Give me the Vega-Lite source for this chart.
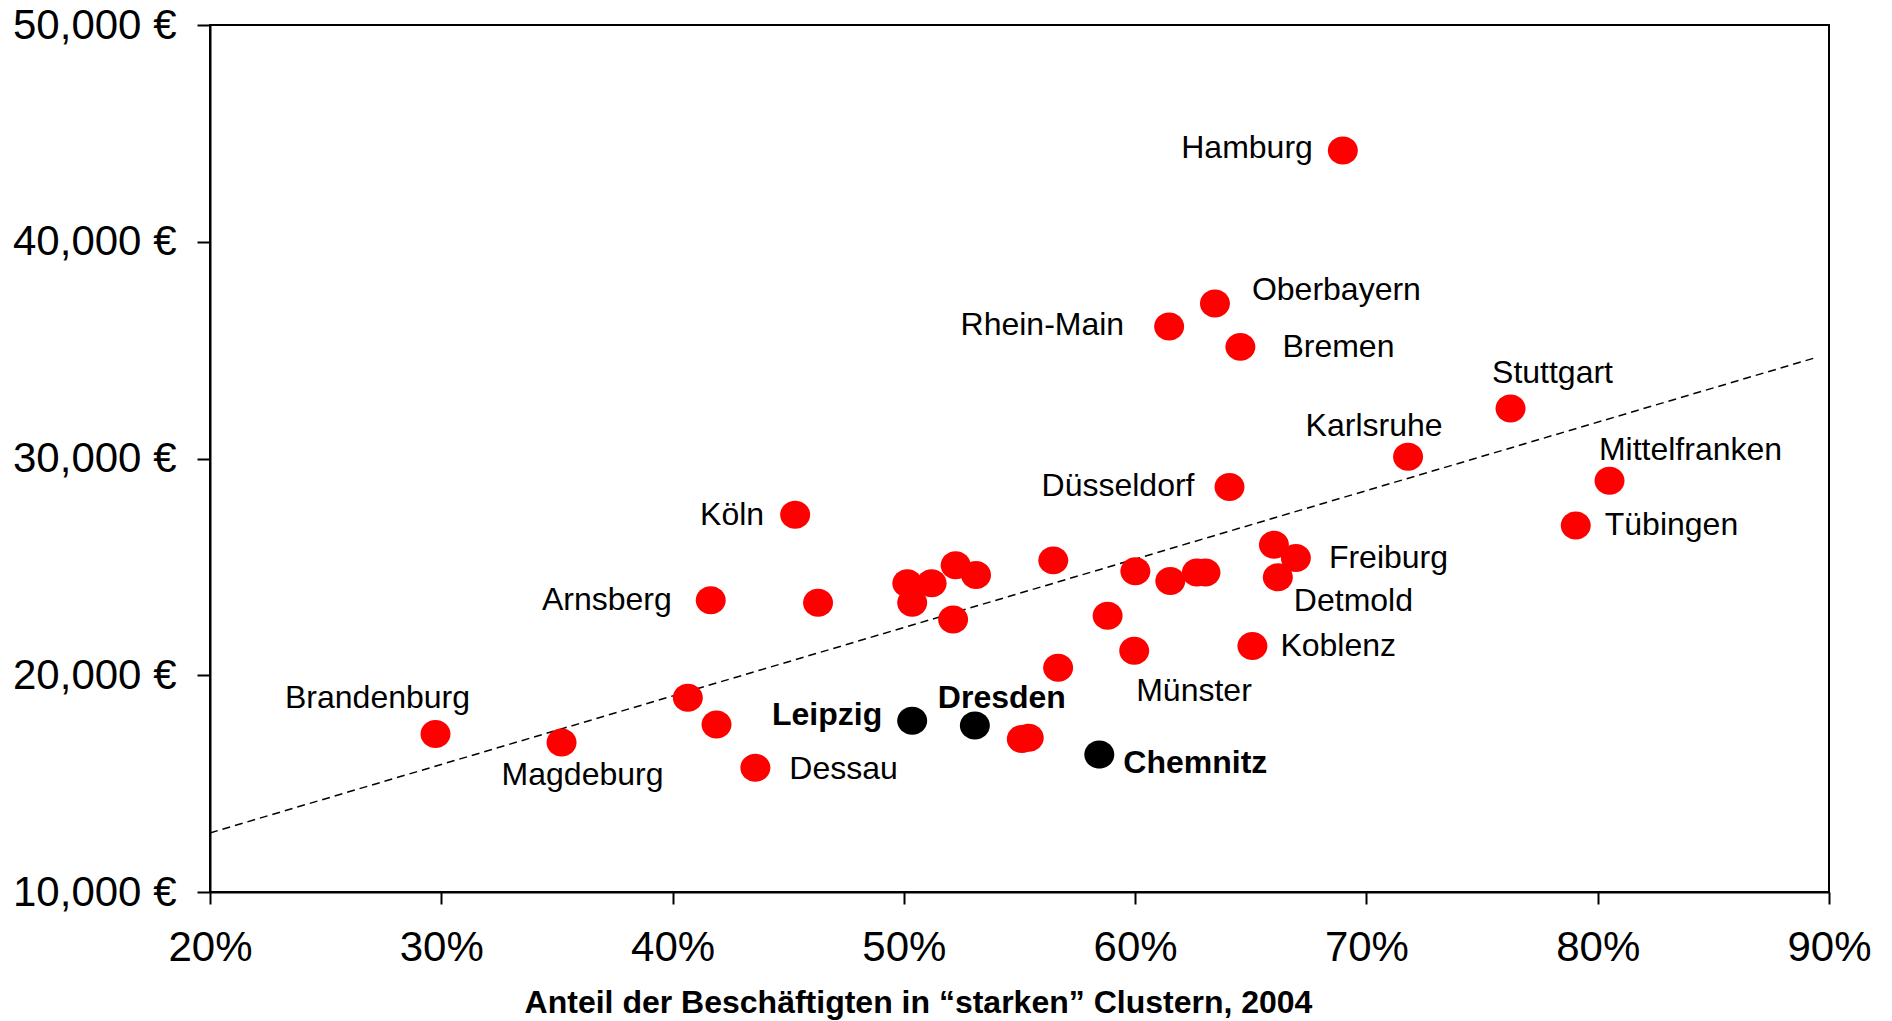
{
  "$schema": "https://vega.github.io/schema/vega-lite/v6.json",
  "autosize": "none",
  "width": 1619,
  "height": 867,
  "padding": {"left": 210, "top": 25, "right": 63, "bottom": 129},
  "background": "white",
  "config": {
    "font": "Liberation Sans",
    "view": {"stroke": "black", "strokeWidth": 2},
    "axis": {"grid": false, "domainColor": "black", "domainWidth": 2, "tickColor": "black", "tickWidth": 2, "labelColor": "black", "titleColor": "black", "labelFont": "Liberation Sans", "titleFont": "Liberation Sans", "labelFlush": false, "labelOverlap": false}
  },
  "datasets": {
    "regions": [
      {"label": "Brandenburg", "x": 29.75, "y": 17290, "group": "Andere"},
      {"label": "Magdeburg", "x": 35.2, "y": 16900, "group": "Andere"},
      {"label": "", "x": 40.66, "y": 18960, "group": "Andere"},
      {"label": "", "x": 41.9, "y": 17730, "group": "Andere"},
      {"label": "Dessau", "x": 43.58, "y": 15730, "group": "Andere"},
      {"label": "Arnsberg", "x": 41.65, "y": 23460, "group": "Andere"},
      {"label": "Köln", "x": 45.3, "y": 27410, "group": "Andere"},
      {"label": "", "x": 46.29, "y": 23350, "group": "Andere"},
      {"label": "", "x": 50.15, "y": 24240, "group": "Andere"},
      {"label": "", "x": 51.2, "y": 24240, "group": "Andere"},
      {"label": "", "x": 50.36, "y": 23350, "group": "Andere"},
      {"label": "", "x": 52.24, "y": 25080, "group": "Andere"},
      {"label": "", "x": 53.12, "y": 24630, "group": "Andere"},
      {"label": "", "x": 52.13, "y": 22570, "group": "Andere"},
      {"label": "", "x": 56.46, "y": 25300, "group": "Andere"},
      {"label": "", "x": 56.67, "y": 20350, "group": "Andere"},
      {"label": "", "x": 55.1, "y": 17060, "group": "Andere"},
      {"label": "", "x": 55.4, "y": 17120, "group": "Andere"},
      {"label": "Leipzig", "x": 50.36, "y": 17900, "group": "Sachsen"},
      {"label": "Dresden", "x": 53.07, "y": 17680, "group": "Sachsen"},
      {"label": "Chemnitz", "x": 58.45, "y": 16340, "group": "Sachsen"},
      {"label": "", "x": 58.81, "y": 22740, "group": "Andere"},
      {"label": "Münster", "x": 59.96, "y": 21130, "group": "Andere"},
      {"label": "", "x": 60.01, "y": 24800, "group": "Andere"},
      {"label": "", "x": 61.52, "y": 24350, "group": "Andere"},
      {"label": "", "x": 62.67, "y": 24740, "group": "Andere"},
      {"label": "", "x": 63.04, "y": 24740, "group": "Andere"},
      {"label": "Düsseldorf", "x": 64.08, "y": 28690, "group": "Andere"},
      {"label": "Rhein-Main", "x": 61.47, "y": 36090, "group": "Andere"},
      {"label": "Oberbayern", "x": 63.45, "y": 37150, "group": "Andere"},
      {"label": "Bremen", "x": 64.55, "y": 35150, "group": "Andere"},
      {"label": "Hamburg", "x": 68.98, "y": 44210, "group": "Andere"},
      {"label": "Karlsruhe", "x": 71.8, "y": 30080, "group": "Andere"},
      {"label": "Stuttgart", "x": 76.23, "y": 32310, "group": "Andere"},
      {"label": "Mittelfranken", "x": 80.51, "y": 28970, "group": "Andere"},
      {"label": "Tübingen", "x": 79.05, "y": 26910, "group": "Andere"},
      {"label": "Freiburg", "x": 66.95, "y": 25410, "group": "Andere"},
      {"label": "", "x": 66.0, "y": 26020, "group": "Andere"},
      {"label": "Detmold", "x": 66.17, "y": 24520, "group": "Andere"},
      {"label": "Koblenz", "x": 65.07, "y": 21350, "group": "Andere"}
    ],
    "trend": [
      {"x": 20, "y": 12726},
      {"x": 89.4, "y": 34646}
    ]
  },
  "encoding": {
    "x": {"field": "x", "type": "quantitative", "scale": {"domain": [20, 90], "nice": false, "zero": false},
      "axis": {"values": [20, 30, 40, 50, 60, 70, 80, 90], "labelExpr": "datum.value + '%'", "labelFontSize": 42, "tickSize": 12, "labelPadding": 23,
        "title": "Anteil der Beschäftigten in “starken” Clustern, 2004", "titleFontSize": 32, "titleFontWeight": "bold", "titlePadding": 19, "titleX": 708}},
    "y": {"field": "y", "type": "quantitative", "scale": {"domain": [10000, 50000], "nice": false, "zero": false},
      "axis": {"values": [10000, 20000, 30000, 40000, 50000], "labelExpr": "format(datum.value, ',') + ' €'", "labelFontSize": 42, "tickSize": 13, "labelPadding": 21, "title": null}}
  },
  "layer": [
    {"data": {"name": "trend"}, "mark": {"type": "line", "color": "black", "strokeWidth": 1.5, "strokeDash": [8, 5]}},
    {"data": {"name": "regions"}, "mark": {"type": "point", "filled": true, "size": 900, "opacity": 1, "strokeWidth": 0, "shape": "M -1 0 A 1 0.933 0 1 0 1 0 A 1 0.933 0 1 0 -1 0 Z"},
      "encoding": {"color": {"field": "group", "type": "nominal", "scale": {"domain": ["Andere", "Sachsen"], "range": ["#ff0000", "#000000"]}, "legend": null}}},
    {"data": {"name": "regions"}, "transform": [{"filter": "datum.label === 'Hamburg'"}], "mark": {"type": "text", "align": "right", "baseline": "middle", "dx": -30, "dy": -2, "fontSize": 32}, "encoding": {"text": {"field": "label"}}},
    {"data": {"name": "regions"}, "transform": [{"filter": "datum.label === 'Rhein-Main'"}], "mark": {"type": "text", "align": "right", "baseline": "middle", "dx": -45, "dy": -1, "fontSize": 32}, "encoding": {"text": {"field": "label"}}},
    {"data": {"name": "regions"}, "transform": [{"filter": "datum.label === 'Düsseldorf'"}], "mark": {"type": "text", "align": "right", "baseline": "middle", "dx": -35, "dy": -1, "fontSize": 32}, "encoding": {"text": {"field": "label"}}},
    {"data": {"name": "regions"}, "transform": [{"filter": "datum.label === 'Köln'"}], "mark": {"type": "text", "align": "right", "baseline": "middle", "dx": -31, "dy": 0, "fontSize": 32}, "encoding": {"text": {"field": "label"}}},
    {"data": {"name": "regions"}, "transform": [{"filter": "datum.label === 'Arnsberg'"}], "mark": {"type": "text", "align": "right", "baseline": "middle", "dx": -39, "dy": 0, "fontSize": 32}, "encoding": {"text": {"field": "label"}}},
    {"data": {"name": "regions"}, "transform": [{"filter": "datum.label === 'Leipzig'"}], "mark": {"type": "text", "align": "right", "baseline": "middle", "dx": -30, "dy": -6, "fontSize": 32, "fontWeight": "bold"}, "encoding": {"text": {"field": "label"}}},
    {"data": {"name": "regions"}, "transform": [{"filter": "datum.label === 'Oberbayern'"}], "mark": {"type": "text", "align": "left", "baseline": "middle", "dx": 37, "dy": -14, "fontSize": 32}, "encoding": {"text": {"field": "label"}}},
    {"data": {"name": "regions"}, "transform": [{"filter": "datum.label === 'Bremen'"}], "mark": {"type": "text", "align": "left", "baseline": "middle", "dx": 42, "dy": 0, "fontSize": 32}, "encoding": {"text": {"field": "label"}}},
    {"data": {"name": "regions"}, "transform": [{"filter": "datum.label === 'Tübingen'"}], "mark": {"type": "text", "align": "left", "baseline": "middle", "dx": 29, "dy": 0, "fontSize": 32}, "encoding": {"text": {"field": "label"}}},
    {"data": {"name": "regions"}, "transform": [{"filter": "datum.label === 'Freiburg'"}], "mark": {"type": "text", "align": "left", "baseline": "middle", "dx": 33, "dy": 0, "fontSize": 32}, "encoding": {"text": {"field": "label"}}},
    {"data": {"name": "regions"}, "transform": [{"filter": "datum.label === 'Koblenz'"}], "mark": {"type": "text", "align": "left", "baseline": "middle", "dx": 28, "dy": 0, "fontSize": 32}, "encoding": {"text": {"field": "label"}}},
    {"data": {"name": "regions"}, "transform": [{"filter": "datum.label === 'Dessau'"}], "mark": {"type": "text", "align": "left", "baseline": "middle", "dx": 34, "dy": 1, "fontSize": 32}, "encoding": {"text": {"field": "label"}}},
    {"data": {"name": "regions"}, "transform": [{"filter": "datum.label === 'Chemnitz'"}], "mark": {"type": "text", "align": "left", "baseline": "middle", "dx": 24, "dy": 8, "fontSize": 32, "fontWeight": "bold"}, "encoding": {"text": {"field": "label"}}},
    {"data": {"name": "regions"}, "transform": [{"filter": "datum.label === 'Detmold'"}], "mark": {"type": "text", "align": "left", "baseline": "middle", "dx": 16, "dy": 24, "fontSize": 32}, "encoding": {"text": {"field": "label"}}},
    {"data": {"name": "regions"}, "transform": [{"filter": "datum.label === 'Münster'"}], "mark": {"type": "text", "align": "left", "baseline": "middle", "dx": 2, "dy": 40, "fontSize": 32}, "encoding": {"text": {"field": "label"}}},
    {"data": {"name": "regions"}, "transform": [{"filter": "datum.label === 'Stuttgart'"}], "mark": {"type": "text", "align": "center", "baseline": "middle", "dx": 42, "dy": -35, "fontSize": 32}, "encoding": {"text": {"field": "label"}}},
    {"data": {"name": "regions"}, "transform": [{"filter": "datum.label === 'Karlsruhe'"}], "mark": {"type": "text", "align": "center", "baseline": "middle", "dx": -34, "dy": -31, "fontSize": 32}, "encoding": {"text": {"field": "label"}}},
    {"data": {"name": "regions"}, "transform": [{"filter": "datum.label === 'Mittelfranken'"}], "mark": {"type": "text", "align": "center", "baseline": "middle", "dx": 81, "dy": -31, "fontSize": 32}, "encoding": {"text": {"field": "label"}}},
    {"data": {"name": "regions"}, "transform": [{"filter": "datum.label === 'Brandenburg'"}], "mark": {"type": "text", "align": "center", "baseline": "middle", "dx": -58, "dy": -36, "fontSize": 32}, "encoding": {"text": {"field": "label"}}},
    {"data": {"name": "regions"}, "transform": [{"filter": "datum.label === 'Magdeburg'"}], "mark": {"type": "text", "align": "center", "baseline": "middle", "dx": 21, "dy": 33, "fontSize": 32}, "encoding": {"text": {"field": "label"}}},
    {"data": {"name": "regions"}, "transform": [{"filter": "datum.label === 'Dresden'"}], "mark": {"type": "text", "align": "center", "baseline": "middle", "dx": 27, "dy": -28, "fontSize": 32, "fontWeight": "bold"}, "encoding": {"text": {"field": "label"}}}
  ]
}
